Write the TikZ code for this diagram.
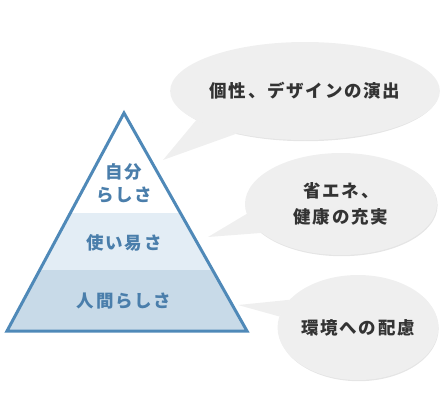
\documentclass[tikz,border=0pt]{standalone}
\usepackage{fontspec}
\usepackage{tikz}
\usetikzlibrary{calc,shapes.geometric,backgrounds}
\newfontfamily\jpfont{Noto Sans CJK JP}[LetterSpace=10]
\definecolor{pyrline}{RGB}{79,137,184}
\definecolor{pyrtext}{RGB}{74,126,171}
\definecolor{bandlight}{RGB}{227,237,245}
\definecolor{banddark}{RGB}{200,218,232}
\definecolor{bubblec}{RGB}{239,239,239}
\definecolor{shadec}{RGB}{229,229,229}
\definecolor{sayc}{RGB}{51,51,51}
\tikzset{
  tier/.style   = {text=pyrtext, align=center, inner sep=0pt,
                   font=\jpfont\bfseries\fontsize{17.5}{23}\selectfont},
  bubble/.style = {ellipse, fill=bubblec, inner sep=0pt, text=sayc, align=center,
                   font=\jpfont\bfseries\fontsize{17.5}{26}\selectfont},
  tail/.style   = {fill=bubblec},
  shade/.style  = {fill=shadec},
  pyredge/.style = {draw=pyrline, line width=3pt, line join=miter},
}

\begin{document}
\begin{tikzpicture}[x=1pt, y=-1pt]
\useasboundingbox (0,0) rectangle (446,416);

% pyramid
\coordinate (top) at (124,113);
\coordinate (bl) at (7,331);
\coordinate (br) at (247,331);
\begin{scope}
  \clip (top) -- (bl) -- (br) -- cycle;
  \fill[bandlight] (0,213) rectangle (260,270);
  \fill[banddark] (0,270) rectangle (260,335);
\end{scope}
\draw[pyredge] (top) -- (bl) -- (br) -- cycle;

\node[tier] (self) at (124,183.5) {自分\\らしさ};
\node[tier] (ease) at (124,243) {使い易さ};
\node[tier] (human) at (124,301) {人間らしさ};

% speech bubbles
\node[bubble, minimum width=266pt, minimum height=98pt] (say1) at (305,91)
  {個性、デザインの演出};
\node[bubble, minimum width=192pt, minimum height=102pt] (say2) at (341,204)
  {省エネ、\\健康の充実};
\node[bubble, minimum width=160pt, minimum height=105pt] (say3) at (358,327.5)
  {環境への配慮};

\coordinate (tip1) at (163,160);
\coordinate (tip2) at (208,237);
\coordinate (tip3) at (238,305);

\begin{scope}[on background layer]
  \fill[shade] ($(say1.center)+(0.6,1.2)$) ellipse [x radius=133pt, y radius=49pt];
  \fill[shade] ($(say2.center)+(0.6,1.2)$) ellipse [x radius=96pt, y radius=51pt];
  \fill[shade] ($(say3.center)+(0.6,1.2)$) ellipse [x radius=80pt, y radius=52.5pt];
  \fill[tail] (say1.195) -- (tip1) -- (say1.212) -- cycle;
  \fill[tail] (say2.186) -- (tip2) -- (say2.200) -- cycle;
  \fill[tail] (say3.158) -- (tip3) -- (say3.172) -- cycle;
\end{scope}

\end{tikzpicture}
\end{document}
